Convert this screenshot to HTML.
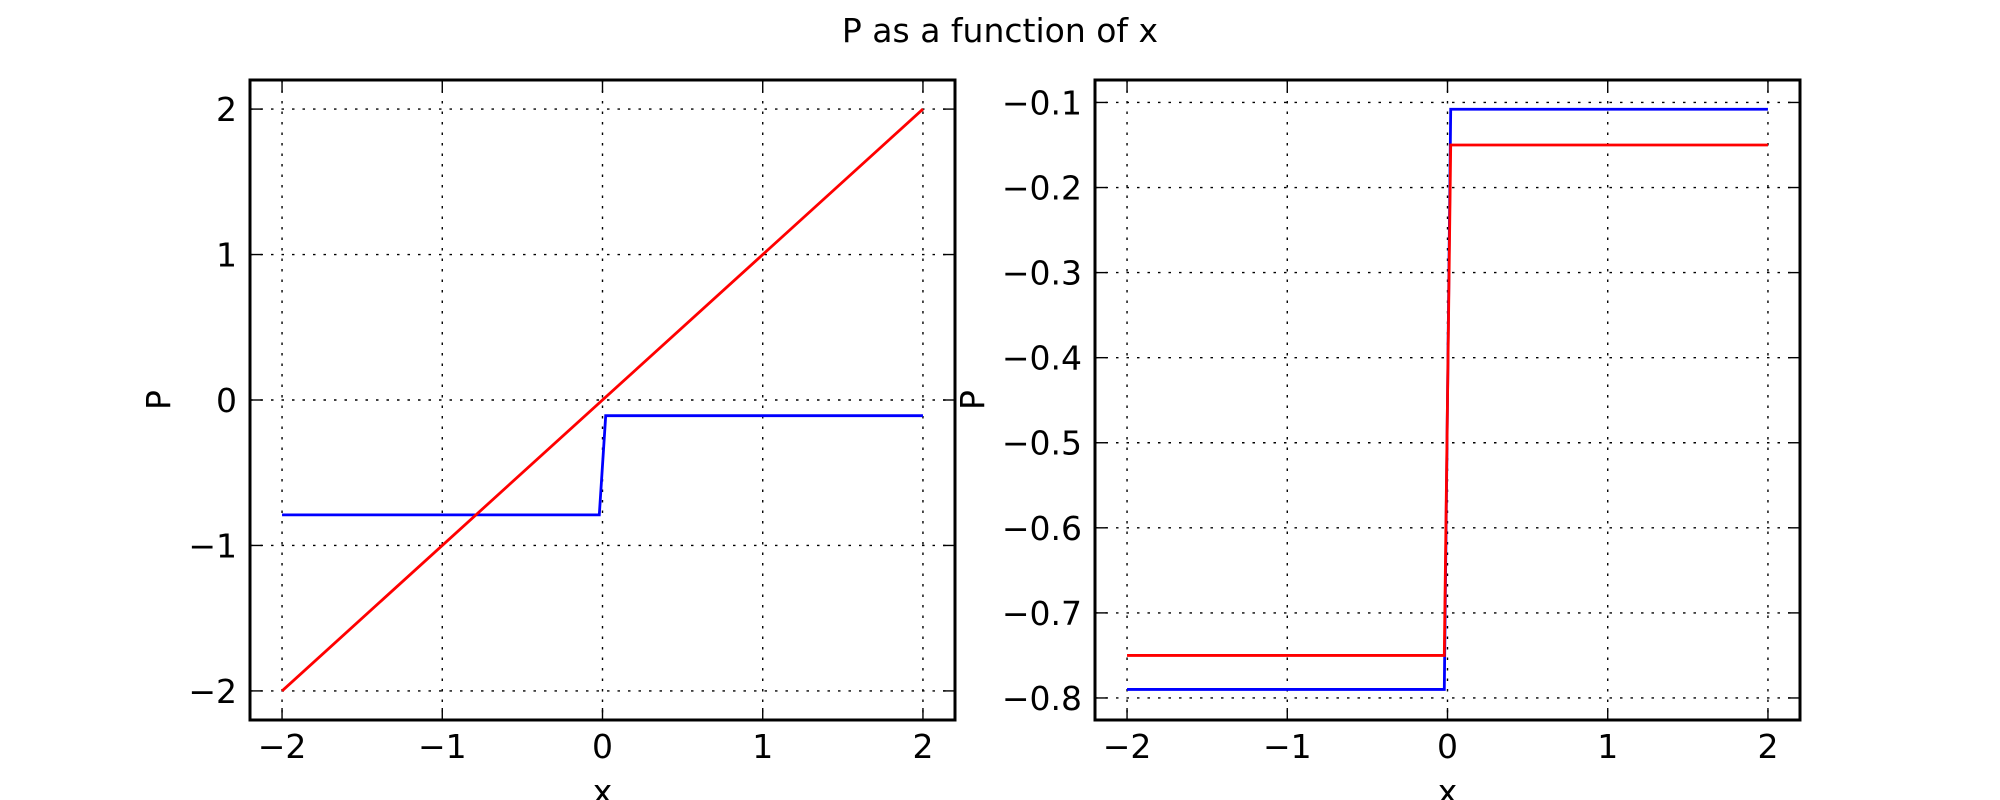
<!DOCTYPE html>
<html><head><meta charset="utf-8">
<style>
html,body{margin:0;padding:0;background:#fff;}
svg{display:block;font-family:"DejaVu Sans","Liberation Sans",sans-serif;}
</style></head>
<body>
<svg id="fig" width="2000" height="800" viewBox="0 0 2000 800" xmlns="http://www.w3.org/2000/svg">
<rect width="2000" height="800" fill="#fff"/>
<text x="1000" y="42" font-size="33" text-anchor="middle">P as a function of x</text>
</svg>
<script>
// Left panel data
const leftX = [-2, -0.02, 0.02, 2];
const leftBlue = [-0.79, -0.79, -0.108, -0.108];
const leftRedX = [-2, 2];
const leftRed = [-2, 2];
const leftXTicks = [-2, -1, 0, 1, 2];
const leftYTicks = [-2, -1, 0, 1, 2];
const leftXLabels = ["\u22122", "\u22121", "0", "1", "2"];
const leftYLabels = ["\u22122", "\u22121", "0", "1", "2"];
// Right panel data
const rightX = [-2, -0.02, 0.02, 2];
const rightBlue = [-0.79, -0.79, -0.108, -0.108];
const rightRed = [-0.75, -0.75, -0.15, -0.15];
const rightXTicks = [-2, -1, 0, 1, 2];
const rightYTicks = [-0.8, -0.7, -0.6, -0.5, -0.4, -0.3, -0.2, -0.1];
const rightXLabels = ["\u22122", "\u22121", "0", "1", "2"];
const rightYLabels = ["\u22120.8", "\u22120.7", "\u22120.6", "\u22120.5", "\u22120.4", "\u22120.3", "\u22120.2", "\u22120.1"];

const NS = "http://www.w3.org/2000/svg";
const svg = document.getElementById('fig');
function mk(tag, attrs, parent) {
  const e = document.createElementNS(NS, tag);
  for (const k in attrs) e.setAttribute(k, attrs[k]);
  (parent || svg).appendChild(e);
  return e;
}

function panel(name, L, R, T, B, xmin, xmax, ymin, ymax, xt, xl, yt, yl, series) {
  const g = mk('g', {});
  
  
  const sx = v => L + (v - xmin) / (xmax - xmin) * (R - L);
  const sy = v => B - (v - ymin) / (ymax - ymin) * (B - T);
  // grid
  xt.forEach((v, i) => {
    const x = sx(v);
    const gl = mk('line', {x1: x, x2: x, y1: T, y2: B, stroke: '#000', 'stroke-width': 1.4, 'stroke-dasharray': '2.5,8'}, g);
    
    
    mk('line', {x1: x, x2: x, y1: B, y2: B - 12, stroke: '#000', 'stroke-width': 1.4}, g);
    mk('line', {x1: x, x2: x, y1: T, y2: T + 12, stroke: '#000', 'stroke-width': 1.4}, g);
    const t = mk('text', {x: x, y: B + 38, 'font-size': 33, 'text-anchor': 'middle'}, g);
    t.textContent = xl[i];
    
    
  });
  yt.forEach((v, i) => {
    const y = sy(v);
    const gl = mk('line', {x1: L, x2: R, y1: y, y2: y, stroke: '#000', 'stroke-width': 1.4, 'stroke-dasharray': '2.5,8'}, g);
    
    
    mk('line', {x1: L, x2: L + 12, y1: y, y2: y, stroke: '#000', 'stroke-width': 1.4}, g);
    mk('line', {x1: R, x2: R - 12, y1: y, y2: y, stroke: '#000', 'stroke-width': 1.4}, g);
    const t = mk('text', {x: L - 13, y: y + 12, 'font-size': 33, 'text-anchor': 'end'}, g);
    t.textContent = yl[i];
    
    
  });
  series.forEach(s => {
    const pts = s.xs.map((x, i) => sx(x) + ',' + sy(s.ys[i])).join(' ');
    const p = mk('polyline', {points: pts, fill: 'none', stroke: s.color, 'stroke-width': 2.8}, g);
    
    
  });
  const fr = mk('rect', {x: L, y: T, width: R - L, height: B - T, fill: 'none', stroke: '#000', 'stroke-width': 3}, g);
  
  
  const xlab = mk('text', {x: (L + R) / 2, y: B + 83, 'font-size': 33, 'text-anchor': 'middle'}, g);
  xlab.textContent = 'x';
  
  
  return {sx, sy, g};
}

const lp = panel('left-panel', 250, 955, 80, 720, -2.2, 2.2, -2.2, 2.2, leftXTicks, leftXLabels, leftYTicks, leftYLabels, [
  {xs: leftX, ys: leftBlue, color: '#0000ff', name: 'blue-series'},
  {xs: leftRedX, ys: leftRed, color: '#ff0000', name: 'red-series'}
]);
const rp = panel('right-panel', 1095, 1800, 80, 720, -2.2, 2.2, -0.8259, -0.0736, rightXTicks, rightXLabels, rightYTicks, rightYLabels, [
  {xs: rightX, ys: rightBlue, color: '#0000ff', name: 'blue-series'},
  {xs: rightX, ys: rightRed, color: '#ff0000', name: 'red-series'}
]);

function ylab(x, y) {
  const t = mk('text', {x: x, y: y, 'font-size': 33, 'text-anchor': 'middle', transform: 'rotate(-90 ' + x + ' ' + y + ')'});
  t.textContent = 'P';
  
  
}
ylab(170, 400);
ylab(984, 400);
</script>
</body></html>
